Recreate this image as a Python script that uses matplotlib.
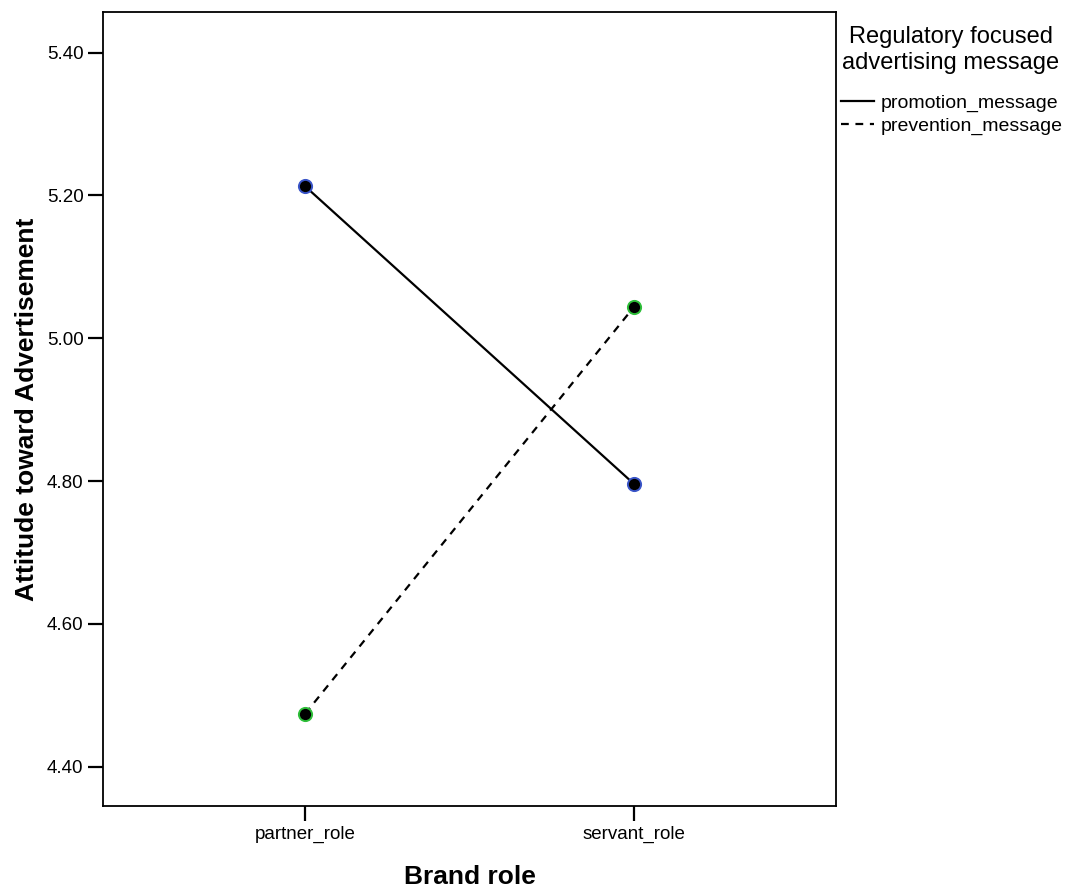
import matplotlib
matplotlib.use("Agg")
import matplotlib.pyplot as plt
from matplotlib.lines import Line2D

plt.rcParams['font.family'] = ['Liberation Sans', 'DejaVu Sans']

categories = ["partner_role", "servant_role"]
promotion = [5.213, 4.796]
prevention = [4.474, 5.044]
yticks = [4.40, 4.60, 4.80, 5.00, 5.20, 5.40]

fig = plt.figure(figsize=(10.71, 8.93), dpi=100)
ax = fig.add_axes([0.0962, 0.0974, 0.6844, 0.8892])

dash = (0, (3.5, 3))
x = list(range(len(categories)))
ax.plot(x, promotion, color='black', lw=1.6, ls='-', marker='o', ms=9.5,
        mfc='black', mec='#3a55c8', mew=1.4, zorder=3)
ax.plot(x, prevention, color='black', lw=1.6, ls=dash, marker='o', ms=9.5,
        mfc='black', mec='#2fbf3a', mew=1.4, zorder=3)

ax.set_xlim(-0.614, 1.614)
ax.set_ylim(4.345, 5.457)
ax.set_xticks(x)
ax.set_xticklabels(categories, fontsize=13.5)
ax.set_yticks(yticks)
ax.set_yticklabels([f"{v:.2f}" for v in yticks], fontsize=13.5)
ax.tick_params(axis='both', direction='out', length=11, width=1.6, color='black', pad=3)
for s in ax.spines.values():
    s.set_linewidth(1.3)

ax.set_xlabel("Brand role", fontsize=19, fontweight='bold', labelpad=16)
ax.set_ylabel("Attitude toward Advertisement", fontsize=19, fontweight='bold', labelpad=6)

fig.text(0.888, 0.944, "Regulatory focused\nadvertising message", ha='center', va='center',
         fontsize=17, linespacing=1.2)
handles = [Line2D([], [], color='black', lw=1.6, ls='-'),
           Line2D([], [], color='black', lw=1.6, ls=dash)]
leg = fig.legend(handles, ["promotion_message", "prevention_message"],
                 loc='upper left', bbox_to_anchor=(0.783, 0.897), frameon=False,
                 fontsize=14, handlelength=1.7, handletextpad=0.36, labelspacing=0.27,
                 borderaxespad=0, borderpad=0.1)

fig.savefig("out.png", dpi=100)
